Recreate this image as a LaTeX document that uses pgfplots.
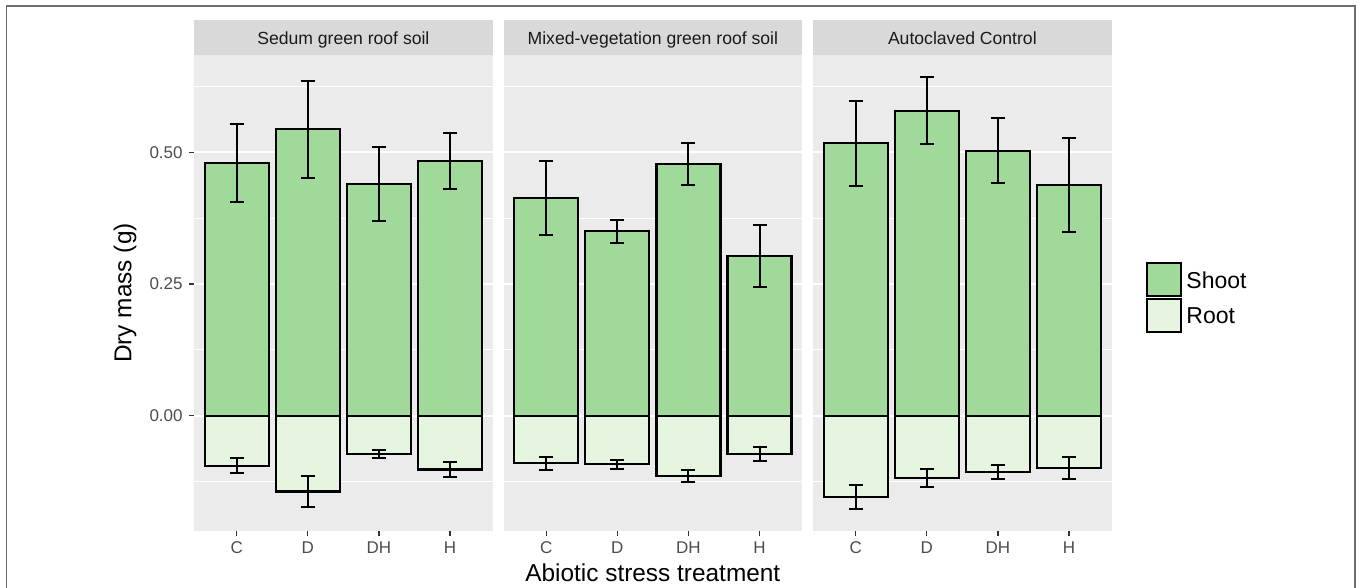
\documentclass[border=0pt]{standalone}
\usepackage{fontspec}
\setmainfont{Liberation Sans}
\usepackage{pgfplots}
\usepackage{pgfplotstable}
\pgfplotsset{compat=1.18}

\definecolor{shoot}{HTML}{A1D99B}
\definecolor{root}{HTML}{E5F5E0}
\definecolor{panelbg}{HTML}{EBEBEB}
\definecolor{stripbg}{HTML}{D9D9D9}
\definecolor{ticktext}{HTML}{4D4D4D}
\definecolor{tickgrey}{HTML}{333333}
\definecolor{striptext}{HTML}{1A1A1A}
\definecolor{framegrey}{HTML}{6E6E6E}

% mean dry mass and standard error per treatment (x: 1=C, 2=D, 3=DH, 4=H)
\pgfplotstableread{
x shoot shootse root rootse
1 0.479 0.0740 -0.095 0.0145
2 0.544 0.0920 -0.144 0.0295
3 0.440 0.0700 -0.073 0.0080
4 0.484 0.0530 -0.102 0.0145
}\sedum
\pgfplotstableread{
x shoot shootse root rootse
1 0.413 0.0695 -0.090 0.0125
2 0.350 0.0220 -0.092 0.0085
3 0.478 0.0395 -0.115 0.0115
4 0.303 0.0590 -0.073 0.0135
}\mixed
\pgfplotstableread{
x shoot shootse root rootse
1 0.517 0.0805 -0.155 0.0230
2 0.579 0.0640 -0.118 0.0170
3 0.503 0.0620 -0.107 0.0125
4 0.438 0.0900 -0.099 0.0215
}\autoclaved

\pgfplotsset{
  facet/.style={
    scale only axis, width=149.35pt, height=238pt, anchor=south west,
    xmin=0.4, xmax=4.6, ymin=-0.2189, ymax=0.6847,
    axis background/.style={fill=panelbg},
    axis line style={draw=none},
    xtick={1,2,3,4}, xticklabels={C,D,DH,H},
    ytick={0,0.25,0.5},
    minor ytick={-0.125,0.125,0.375,0.625},
    xtick pos=bottom, ytick pos=left,
    ymajorgrids, yminorgrids,
    major grid style={draw=white, line width=1pt},
    minor grid style={draw=white, line width=0.5pt},
    tick align=outside, major tick length=2.75pt, minor tick length=0pt,
    tick style={draw=tickgrey, line width=0.6pt},
    minor tick style={draw=none},
    tick label style={font=\fontsize{8.5}{10}\selectfont, text=ticktext, inner sep=0pt},
    xticklabel style={anchor=north, yshift=-2.6pt},
    yticklabel style={anchor=east, xshift=-2.75pt,
      /pgf/number format/fixed, /pgf/number format/fixed zerofill,
      /pgf/number format/precision=2},
    /pgf/number format/assume math mode=true,
  },
  noyaxis/.style={y tick style={draw=none}, yticklabels={}},
  bars/.style={ybar, bar width=0.9, bar shift=0pt, draw=black, line width=1.1pt,
    error bars/.cd, y dir=both, y explicit,
    error bar style={line width=1pt, draw=black},
    error mark options={rotate=90, mark size=3.5pt, line width=1pt, draw=black}},
}

\newcommand{\facetbars}[1]{%
  \addplot[fill=shoot, bars] table[x=x, y=shoot, y error=shootse]{#1};
  \addplot[fill=root, bars] table[x=x, y=root, y error=rootse]{#1};
}

\begin{document}
\begin{tikzpicture}
\useasboundingbox (0,0) rectangle (680pt,294pt);
\draw[framegrey, line width=0.6pt] (3.35pt,0) -- (3.35pt,291pt) -- (677.5pt,291pt) -- (677.5pt,0);

% facet strips
\fill[stripbg] (97pt,266.5pt) rectangle (246.35pt,284pt);
\fill[stripbg] (251.75pt,266.5pt) rectangle (401.1pt,284pt);
\fill[stripbg] (406.5pt,266.5pt) rectangle (555.85pt,284pt);
\begin{scope}[every node/.style={anchor=base, text=striptext, font=\fontsize{8.8}{10}\selectfont, inner sep=0pt}]
\node at (171.675pt,271.5pt) {Sedum green roof soil};
\node at (326.425pt,271.5pt) {Mixed-vegetation green roof soil};
\node at (481.175pt,271.5pt) {Autoclaved Control};
\end{scope}

\begin{axis}[facet, at={(97pt,28.5pt)}]
\facetbars{\sedum}
\end{axis}
\begin{axis}[facet, noyaxis, at={(251.75pt,28.5pt)}]
\facetbars{\mixed}
\end{axis}
\begin{axis}[facet, noyaxis, at={(406.5pt,28.5pt)}]
\facetbars{\autoclaved}
\end{axis}

% axis titles
\node[rotate=90, font=\fontsize{12.2}{14}\selectfont, inner sep=0pt] at (62.5pt,147.5pt) {Dry mass (g)};
\node[anchor=base, font=\fontsize{12.2}{14}\selectfont, inner sep=0pt] at (326.4pt,3.1pt) {Abiotic stress treatment};

% legend
\draw[fill=shoot, line width=0.85pt] (573.35pt,146pt) rectangle (590.35pt,162.35pt);
\draw[fill=root, line width=0.85pt] (573.35pt,128.15pt) rectangle (590.35pt,144.5pt);
\node[anchor=base west, font=\fontsize{11.5}{13}\selectfont, inner sep=0pt] at (593pt,149.5pt) {Shoot};
\node[anchor=base west, font=\fontsize{11.5}{13}\selectfont, inner sep=0pt] at (593pt,132pt) {Root};
\end{tikzpicture}
\end{document}
